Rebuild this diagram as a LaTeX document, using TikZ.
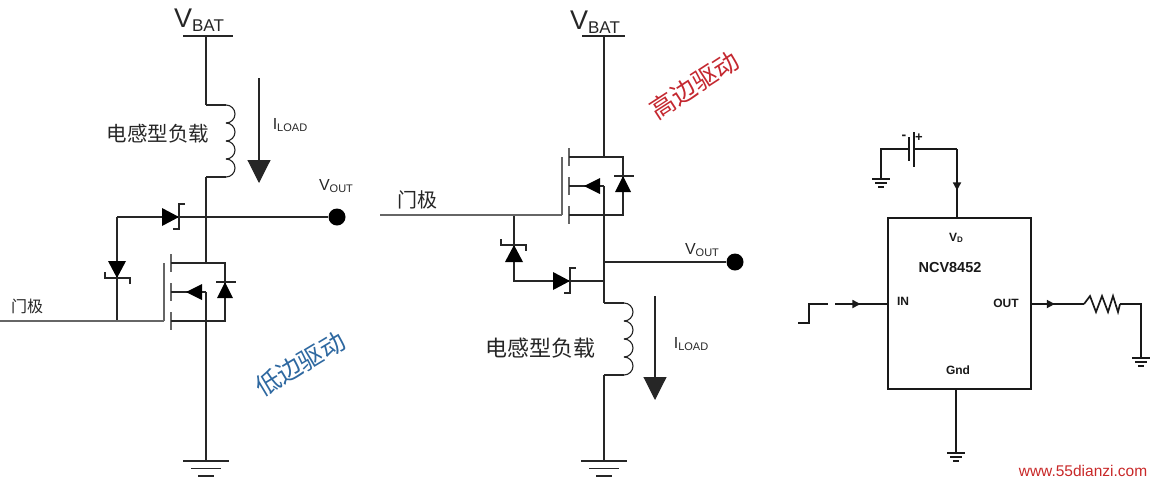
\documentclass[tikz,border=0pt]{standalone}
\usepackage{fontspec}
\setmainfont{Liberation Sans}
\newfontfamily\cjk{Noto Sans CJK SC}
\usetikzlibrary{arrows.meta,decorations.markings}
\newcommand{\fsz}[1]{\fontsize{#1}{#1}\selectfont}
\newcommand{\bigsub}[2]{\fsz{27}#1\raisebox{-4pt}{\fsz{17}#2}}
\newcommand{\smallsub}[2]{\fsz{16}#1\raisebox{-2pt}{\fsz{11}#2}}
\tikzset{
  wire/.style={line width=1.1pt,draw=black!85},
  gatewire/.style={line width=1.5pt,draw=black!60},
  icwire/.style={line width=1.7pt,draw=black!90},
  label/.style={inner sep=0pt,text=black!85},
  bold/.style={inner sep=0pt,font=\bfseries\fsz{12},text=black!90},
  vdot/.style={circle,fill=black,inner sep=0pt,minimum size=17pt},
  loadarrow/.style={wire,-{Triangle[length=23pt,width=23pt]}},
  midarrow/.style={decoration={markings,mark=at position #1 with {\arrow{Triangle[length=8pt,width=8pt]}}},postaction={decorate}},
  gnd/.pic={
    \coordinate (-top) at (0,0);
    \draw[wire] (-23,0) -- (23,0);
    \draw[wire] (-15,7.5) -- (15,7.5);
    \draw[wire] (-8,15) -- (8,15);
  },
  smallgnd/.pic={
    \coordinate (-top) at (0,0);
    \draw[icwire] (-9,0) -- (9,0);
    \draw[icwire] (-6,4) -- (6,4);
    \draw[icwire] (-3,8) -- (3,8);
  },
  coil/.pic={
    \coordinate (-top) at (0,0);
    \coordinate (-bot) at (0,72);
    \draw[wire] (0,0) -- (20,0);
    \foreach \k in {0,1,2,3} {
      \draw[wire] (20,18*\k) arc (-90:90:9);
    }
    \draw[wire] (20,72) -- (0,72);
  },
  zener/.pic={
    \fill[black] (-17,-9) -- (0,0) -- (-17,9) -- cycle;
    \draw[wire] (6,-13) -- (0,-13) -- (0,12) -- (-6,12);
  },
  mosfet/.pic={
    \coordinate (-gate) at (-7,58);
    \coordinate (-drain) at (35,0);
    \coordinate (-body) at (35,29);
    \coordinate (-source) at (35,58);
    \draw[gatewire] (-7,0) -- (-7,58);
    \draw[gatewire] (0,-9) -- (0,9);
    \draw[gatewire] (0,20) -- (0,38);
    \draw[gatewire] (0,49) -- (0,67);
    \draw[wire] (0,0) -- (54,0) -- (54,58) -- (0,58);
    \draw[wire] (0,29) -- (35,29);
    \fill[black] (15,29) -- (31,21) -- (31,37) -- cycle;
    \fill[black] (54,19) -- (46,35) -- (62,35) -- cycle;
    \draw[wire] (45,19) -- (65,19);
  },
  resistor/.pic={
    \coordinate (-in) at (0,0);
    \coordinate (-out) at (36,0);
    \draw[icwire] (0,0) -- (6,-8) -- (12,8) -- (18,-8) -- (24,8) -- (29,-8) -- (34,8) -- (36,0);
  },
}
\begin{document}
\begin{tikzpicture}[x=1pt,y=-1pt]
  \useasboundingbox (0,0) rectangle (1153,483);

  \node[label] (vbatA) at (199,20) {\bigsub{V}{BAT}};
  \coordinate (railA) at (206,36);
  \coordinate (railAl) at (183,36);
  \coordinate (railAr) at (233,36);
  \pic (coilA) at (206,105) {coil};
  \pic (qA) at (171,263) {mosfet};
  \pic (gndA) at (206,461) {gnd};
  \node[vdot] (voutA) at (337,217) {};
  \node[label] (voutAtext) at (336,186) {\smallsub{V}{OUT}};
  \coordinate (midA) at (206,217);
  \coordinate (cornerA) at (117,217);
  \coordinate (tapA) at (117,321);
  \coordinate (inA) at (0,321);
  \coordinate (iA) at (259,78);
  \coordinate (iAend) at (259,183);
  \node[label] (gateA) at (27,306) {\cjk\fsz{16}门极};
  \node[label] (loadA) at (158,134) {\cjk\fsz{20.5}电感型负载};
  \node[label] (iloadA) at (290,125) {\smallsub{I}{LOAD}};
  \node[inner sep=0pt,text={rgb,255:red,46;green,104;blue,160},rotate=31] (lowside) at (300,364) {\cjk\fsz{25}低边驱动};
  \draw[wire] (railAl) -- (railAr);
  \draw[wire] (railA) -- (coilA-top);
  \draw[wire] (coilA-bot) -- (qA-drain);
  \draw[wire] (qA-body) -- (gndA-top);
  \draw[wire] (cornerA) -- (voutA);
  \draw[wire] (cornerA) -- (tapA);
  \draw[gatewire] (inA) -- (qA-gate);
  \draw[loadarrow] (iA) -- (iAend);
  \pic[rotate=-90] at (117,278) {zener};
  \pic at (179,217) {zener};

  \node[label] (vbatB) at (595,22) {\bigsub{V}{BAT}};
  \coordinate (railB) at (604,36);
  \coordinate (railBl) at (582,36);
  \coordinate (railBr) at (625,36);
  \pic (qB) at (569,157) {mosfet};
  \pic (coilB) at (604,303) {coil};
  \pic (gndB) at (604,461) {gnd};
  \node[vdot] (voutB) at (735,262) {};
  \node[label] (voutBtext) at (702,250) {\smallsub{V}{OUT}};
  \coordinate (midB) at (604,262);
  \coordinate (clampB) at (604,281);
  \coordinate (tapB) at (514,215);
  \coordinate (cornerB) at (514,281);
  \coordinate (inB) at (380,215);
  \coordinate (iB) at (655,296);
  \coordinate (iBend) at (655,400);
  \node[label] (gateB) at (417,200) {\cjk\fsz{20}门极};
  \node[label] (loadB) at (540,348) {\cjk\fsz{22}电感型负载};
  \node[label] (iloadB) at (691,344) {\smallsub{I}{LOAD}};
  \node[inner sep=0pt,text={rgb,255:red,196;green,40;blue,48},rotate=33] (highside) at (694,85) {\cjk\fsz{25}高边驱动};
  \draw[wire] (railBl) -- (railBr);
  \draw[wire] (railB) -- (qB-drain);
  \draw[wire] (qB-body) -- (coilB-top);
  \draw[wire] (coilB-bot) -- (gndB-top);
  \draw[wire] (midB) -- (voutB);
  \draw[wire] (clampB) -- (cornerB) -- (tapB);
  \draw[gatewire] (inB) -- (qB-gate);
  \draw[loadarrow] (iB) -- (iBend);
  \pic[rotate=90] at (514,245) {zener};
  \pic at (570,281) {zener};

  \node[draw=black!90,line width=1.8pt,minimum width=143pt,minimum height=171pt,inner sep=0pt] (chip) at (959.5,303.5) {};
  \node[bold] (vd) at (956,238) {V\raisebox{-1.5pt}{\fsz{8}D}};
  \node[bold,font=\bfseries\fsz{14.5}] (part) at (950,268) {NCV8452};
  \node[bold] (pinin) at (903,301) {IN};
  \node[bold] (pinout) at (1006,303) {OUT};
  \node[bold] (pingnd) at (958,370) {Gnd};
  \coordinate (vdpin) at (957,218);
  \coordinate (vdtop) at (957,149);
  \coordinate (plateA) at (909,149);
  \coordinate (plateB) at (914,149);
  \coordinate (plateAt) at (909,137);
  \coordinate (plateAb) at (909,161);
  \coordinate (plateBt) at (914,132);
  \coordinate (plateBb) at (914,167);
  \coordinate (battleft) at (881,149);
  \pic (gndC) at (881,179) {smallgnd};
  \node[bold,font=\bfseries\fsz{14}] (minus) at (904,137) {-};
  \node[bold,font=\bfseries\fsz{13}] (plus) at (919,138) {+};
  \coordinate (step0) at (798,323);
  \coordinate (step1) at (809,323);
  \coordinate (step2) at (809,304);
  \coordinate (step3) at (828,304);
  \coordinate (inwire) at (835,304);
  \coordinate (inpin) at (888,304);
  \coordinate (outpin) at (1031,304);
  \pic (res) at (1084,304) {resistor};
  \coordinate (rcorner) at (1141,304);
  \pic (gndD) at (1141,358) {smallgnd};
  \coordinate (gndpin) at (956,389);
  \pic (gndE) at (956,453) {smallgnd};
  \draw[icwire] (plateAt) -- (plateAb);
  \draw[icwire] (plateBt) -- (plateBb);
  \draw[icwire] (gndC-top) -- (battleft) -- (plateA);
  \draw[icwire] (plateB) -- (vdtop);
  \draw[icwire,midarrow=0.6] (vdtop) -- (vdpin);
  \draw[icwire] (step0) -- (step1) -- (step2) -- (step3);
  \draw[icwire,midarrow=0.48] (inwire) -- (inpin);
  \draw[icwire,midarrow=0.45] (outpin) -- (res-in);
  \draw[icwire] (res-out) -- (rcorner) -- (gndD-top);
  \draw[icwire] (gndpin) -- (gndE-top);
  \node[inner sep=0pt,text={rgb,255:red,200;green,40;blue,40}] (site) at (1083,471) {\fsz{15.5}www.55dianzi.com};
\end{tikzpicture}
\end{document}
